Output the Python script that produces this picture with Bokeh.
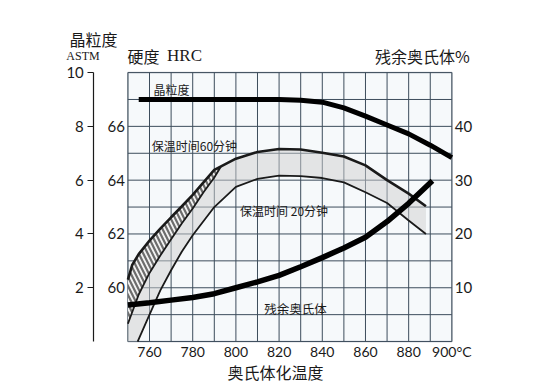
from bokeh.plotting import figure
from bokeh.models import LinearAxis, FixedTicker, Label, BoxAnnotation
from bokeh.embed import file_html
from bokeh.resources import INLINE

# ---- data ----
temp_grain = [755, 780, 800, 820, 830, 840, 850, 860, 870, 880, 890, 900]
grain_astm = [9.0, 9.0, 9.0, 9.0, 8.97, 8.9, 8.69, 8.38, 8.05, 7.72, 7.3, 6.84]

temp_resid = [750, 760, 770, 780, 790, 800, 810, 820, 830, 840, 850, 860, 870, 880, 891]
resid_pct = [6.8, 7.2, 7.7, 8.2, 8.9, 10.0, 11.1, 12.3, 13.9, 15.6, 17.4, 19.4, 22.3, 25.7, 29.9]

temp_60 = [750, 752, 755, 760, 765, 770, 775, 780, 785, 790, 800, 810, 820, 830, 840, 850, 860, 870, 880, 888]
hrc_60 = [60.3, 60.85, 61.25, 61.75, 62.2, 62.62, 63.03, 63.45, 63.92, 64.38, 64.8, 65.05, 65.16, 65.14, 65.02, 64.88, 64.55, 64.0, 63.5, 63.03]

temp_60b = [750, 755, 760, 765, 770, 775, 780, 785, 790, 793]
hrc_60b = [58.66, 59.75, 60.55, 61.2, 61.8, 62.4, 62.95, 63.55, 64.1, 64.5]

temp_20 = [754.5, 760, 765, 770, 775, 780, 790, 800, 810, 820, 830, 840, 850, 860, 870, 880, 888]
hrc_20 = [58.0, 59.0, 59.9, 60.65, 61.35, 61.95, 63.0, 63.75, 64.05, 64.17, 64.15, 64.08, 63.92, 63.55, 63.15, 62.5, 62.0]

x_ticks = [760, 780, 800, 820, 840, 860, 880, 900]
astm_ticks = [2, 4, 6, 8, 10]
hrc_ticks = [60, 62, 64, 66]
pct_ticks = [10, 20, 30, 40]

T_MIN, T_MAX, T_STEP = 750, 900, 10
A_MIN, A_MAX = 0, 10
HRC0 = 58.0   # HRC at bottom of scale
PCT_K = 5.0   # % per ASTM unit

def h(v):
    return [x - HRC0 for x in v]

def pc(v):
    return [x / PCT_K for x in v]

GRID = "#3d4d5c"
INK = "#1a1a1a"
CJK = "Noto Sans CJK SC"
NUM = "Lato"

p = figure(width=552, height=383, x_range=(691.0, 946.6), y_range=(-1.56, 12.68),
           output_backend="svg", toolbar_location=None,
           x_axis_location=None, y_axis_location=None,
           min_border=0, min_border_left=0, min_border_right=0,
           min_border_top=0, min_border_bottom=0,
           background_fill_color="white", border_fill_color="white")
p.outline_line_color = None
p.xgrid.visible = False
p.ygrid.visible = False

# chart area background
p.add_layout(BoxAnnotation(left=T_MIN, right=T_MAX, bottom=A_MIN, top=A_MAX,
                           fill_color="#f6f9fb", fill_alpha=1.0,
                           line_color=GRID, line_width=1.5, level="underlay"))

# grid lines
gx = list(range(T_MIN, T_MAX + 1, T_STEP))
gy = list(range(A_MIN, A_MAX + 1))
p.segment(x0=gx, y0=[A_MIN] * len(gx), x1=gx, y1=[A_MAX] * len(gx), line_color=GRID, line_width=1)
p.segment(x0=[T_MIN] * len(gy), y0=gy, x1=[T_MAX] * len(gy), y1=gy, line_color=GRID, line_width=1)

def plain_axis(ax, size, standoff):
    ax.axis_line_color = None
    ax.major_tick_line_color = None
    ax.minor_tick_line_color = None
    ax.major_tick_out = 0
    ax.major_tick_in = 0
    ax.minor_tick_out = 0
    ax.major_label_standoff = standoff
    ax.major_label_text_font = NUM
    ax.major_label_text_font_size = size
    ax.major_label_text_color = INK

# bottom axis
xa = LinearAxis(ticker=FixedTicker(ticks=x_ticks), fixed_location=A_MIN, bounds=(T_MIN, T_MAX))
xa.major_label_overrides = {900: "900°C"}
plain_axis(xa, "14px", 1)
p.add_layout(xa, "below")

# HRC axis
ya = LinearAxis(ticker=FixedTicker(ticks=[t - HRC0 for t in hrc_ticks]), fixed_location=T_MIN)
ya.major_label_overrides = {t - HRC0: str(t) for t in hrc_ticks}
plain_axis(ya, "15px", 3)
p.add_layout(ya, "left")

# ASTM axis
astm = LinearAxis(ticker=FixedTicker(ticks=astm_ticks), bounds=(A_MIN, A_MAX), fixed_location=734.2)
astm.axis_line_color = INK
astm.axis_line_width = 1.2
astm.major_tick_line_color = INK
astm.major_tick_out = 6
astm.major_tick_in = 0
astm.minor_tick_line_color = None
astm.minor_tick_out = 0
astm.major_label_standoff = 4
astm.major_label_text_font = NUM
astm.major_label_text_font_size = "15px"
astm.major_label_text_color = INK
p.add_layout(astm, "left")

# % axis (right)
ra = LinearAxis(ticker=FixedTicker(ticks=[t / PCT_K for t in pct_ticks]), fixed_location=T_MAX)
ra.major_label_overrides = {t / PCT_K: str(t) for t in pct_ticks}
plain_axis(ra, "15px", 3)
p.add_layout(ra, "right")

# grey band between 60 min and 20 min curves
up_x = temp_60b + [t for t in temp_60 if t >= 800]
up_y = h(hrc_60b) + [v - HRC0 for t, v in zip(temp_60, hrc_60) if t >= 800]
band_x = up_x + temp_20[::-1] + [T_MIN]
band_y = up_y + h(hrc_20)[::-1] + [A_MIN]
p.patch(band_x, band_y, fill_color="#cfcfcf", fill_alpha=0.5, line_color=None)

# hatched sliver
a_x = [t for t in temp_60 if t <= 790]
a_y = [v - HRC0 for t, v in zip(temp_60, hrc_60) if t <= 790]
hx = a_x + temp_60b[::-1]
hy = a_y + h(hrc_60b)[::-1]
p.patch(hx, hy, fill_color="#f2f2f2", fill_alpha=1.0, line_color=None,
        hatch_pattern="\\", hatch_color="#555555", hatch_alpha=0.85,
        hatch_scale=9, hatch_weight=2.2)

# hardness lines
p.line(temp_60, h(hrc_60), line_color=INK, line_width=2.6)
p.line(temp_60b, h(hrc_60b), line_color=INK, line_width=1.8)
p.line(temp_20, h(hrc_20), line_color=INK, line_width=1.8)

# grain size and retained austenite
p.line(temp_grain, grain_astm, line_color="black", line_width=5)
p.line(temp_resid, pc(resid_pct), line_color="black", line_width=5.5)

def lab(x, y, text, size, font=CJK):
    p.add_layout(Label(x=x, y=y, text=text, text_align="center", text_baseline="middle",
                       text_font=font, text_font_size=size, text_color=INK))

# inner labels
lab(770.2, 9.37, "晶粒度", "12px")
lab(780.8, 7.29, "保温时间60分钟", "12px")
lab(822.3, 4.87, "保温时间 20分钟", "12px")
lab(827.6, 1.23, "残余奥氏体", "12.5px")

# outer titles
lab(734.1, 11.23, "晶粒度", "16px")
lab(729.2, 10.6, "ASTM", "12px", "Liberation Serif")
lab(757.2, 10.63, "硬度", "16px")
lab(776.2, 10.63, "HRC", "17px", "Liberation Serif")
lab(886.4, 10.63, "残余奥氏体%", "16px")
lab(818.3, -1.15, "奥氏体化温度", "16px")

open("out.html", "w").write(file_html(p, INLINE))
